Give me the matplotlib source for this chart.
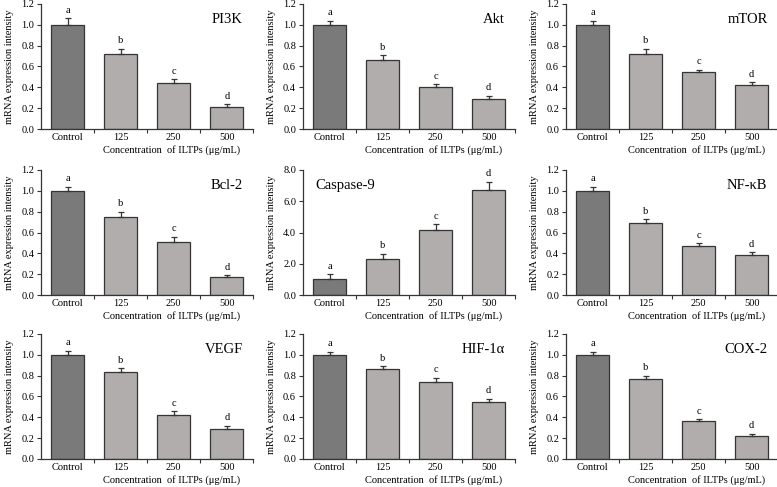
import matplotlib
matplotlib.use('Agg')
import matplotlib.pyplot as plt
from matplotlib.ticker import FixedLocator, FormatStrFormatter

plt.rcParams['font.family'] = ['Liberation Serif', 'DejaVu Serif']
plt.rcParams['font.size'] = 7.5

# data
groups = ['Control', '125', '250', '500']
letters = ['a', 'b', 'c', 'd']
genes = ['PI3K', 'Akt', 'mTOR', 'Bcl-2', 'Caspase-9', 'NF-κB',
         'VEGF', 'HIF-1α', 'COX-2']
pi3k = [1.00, 0.72, 0.44, 0.21]
pi3k_err = [0.06, 0.05, 0.04, 0.03]
akt = [1.00, 0.66, 0.40, 0.29]
akt_err = [0.04, 0.05, 0.03, 0.03]
mtor = [1.00, 0.72, 0.55, 0.42]
mtor_err = [0.04, 0.05, 0.02, 0.03]
bcl2 = [1.00, 0.75, 0.51, 0.17]
bcl2_err = [0.04, 0.05, 0.05, 0.02]
casp9 = [1.02, 2.28, 4.15, 6.72]
casp9_err = [0.32, 0.38, 0.38, 0.52]
nfkb = [1.00, 0.69, 0.47, 0.38]
nfkb_err = [0.04, 0.04, 0.03, 0.03]
vegf = [1.00, 0.83, 0.42, 0.29]
vegf_err = [0.04, 0.04, 0.04, 0.03]
hif1a = [1.00, 0.86, 0.74, 0.55]
hif1a_err = [0.03, 0.03, 0.04, 0.03]
cox2 = [1.00, 0.77, 0.36, 0.22]
cox2_err = [0.03, 0.03, 0.02, 0.02]

means = [pi3k, akt, mtor, bcl2, casp9, nfkb, vegf, hif1a, cox2]
errs = [pi3k_err, akt_err, mtor_err, bcl2_err, casp9_err, nfkb_err,
        vegf_err, hif1a_err, cox2_err]

# panel geometry (figure fractions)
lefts = [0.053, 0.390, 0.7285]
bottoms = [0.735, 0.394, 0.0575]
width, height = 0.273, 0.257

fig = plt.figure(figsize=(7.77, 4.87), dpi=100)

dark = '#7a7a7a'
light = '#b1adad'
edge = '#353535'

for i, (gene, m, e) in enumerate(zip(genes, means, errs)):
    ax = fig.add_axes([lefts[i % 3], bottoms[i // 3], width, height])
    x = range(len(groups))
    cols = [dark] + [light] * 3
    ax.bar(x, m, width=0.62, color=cols, edgecolor=edge, linewidth=0.9,
           zorder=2)
    ax.errorbar(x, m, yerr=[[0] * 4, e], fmt='none', ecolor=edge,
                elinewidth=0.9, capsize=2.2, capthick=0.9, zorder=3)

    # significance letters
    ytop = 8.0 if gene == 'Caspase-9' else 1.2
    for xi, mi, ei, lt in zip(x, m, e, letters):
        ax.annotate(lt, (xi, mi + ei), xytext=(0, 2.5),
                    textcoords='offset points', ha='center', va='bottom')

    # axes style
    ax.set_xlim(-0.5, 3.5)
    ax.set_ylim(0, ytop)
    if gene == 'Caspase-9':
        ax.set_yticks([0, 2, 4, 6, 8])
    else:
        ax.set_yticks([0, 0.2, 0.4, 0.6, 0.8, 1.0, 1.2])
    ax.yaxis.set_major_formatter(FormatStrFormatter('%.1f'))
    ax.set_xticks(list(x))
    ax.set_xticklabels(groups)
    ax.xaxis.set_minor_locator(FixedLocator([0.5, 1.5, 2.5, 3.5]))
    ax.tick_params(axis='x', which='major', length=0, pad=3)
    ax.tick_params(axis='x', which='minor', length=3, width=0.8,
                   direction='out', color=edge)
    ax.tick_params(axis='y', length=3, width=0.8, direction='out',
                   color=edge, pad=2)
    for s in ['top', 'right']:
        ax.spines[s].set_visible(False)
    for s in ['left', 'bottom']:
        ax.spines[s].set_linewidth(0.9)
        ax.spines[s].set_color(edge)

    ax.set_ylabel('mRNA expression intensity', labelpad=5)
    ax.set_xlabel('Concentration  of ILTPs (μg/mL)', labelpad=-1)
    ax.xaxis.set_label_coords(0.94, -0.13)
    ax.xaxis.label.set_ha('right')
    ax.xaxis.label.set_va('top')

    # gene name
    if gene == 'Caspase-9':
        ax.text(0.06, 0.85, gene, transform=ax.transAxes, fontsize=10.5,
                ha='left', va='baseline')
    else:
        ax.text(0.95, 0.85, gene, transform=ax.transAxes, fontsize=10.5,
                ha='right', va='baseline')

fig.savefig('out.png', dpi=100)
